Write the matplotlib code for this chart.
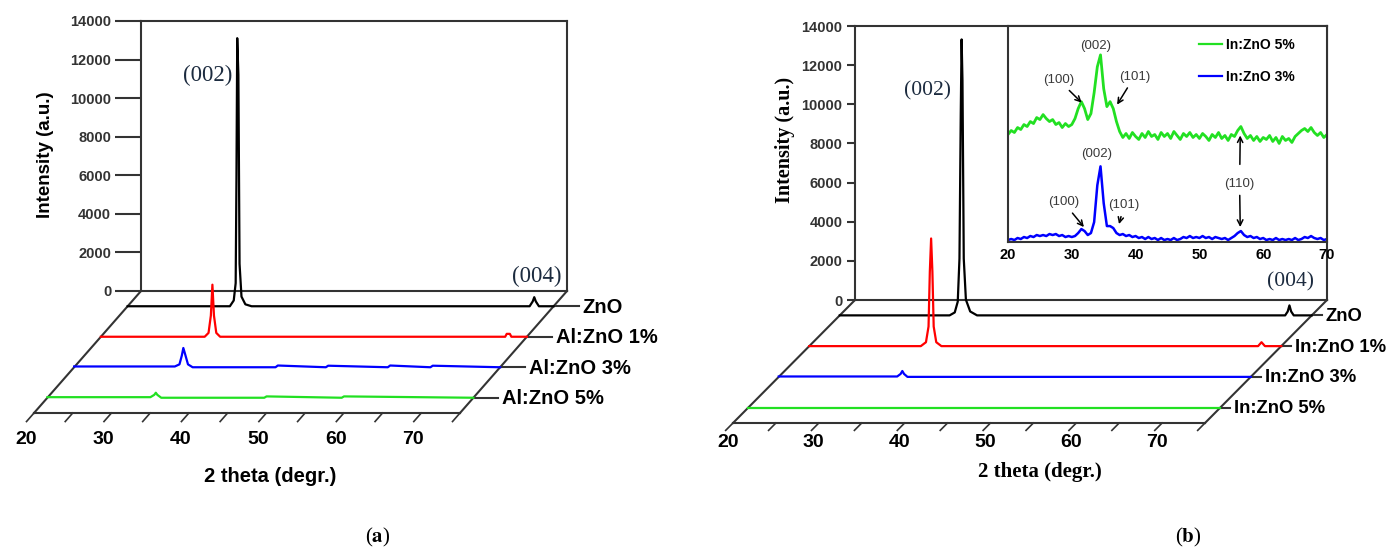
import numpy as np
import matplotlib.pyplot as plt
from matplotlib.lines import Line2D

W, H = 1390, 552
plt.rcParams['mathtext.fontset'] = 'stix'

NARROW = ['Liberation Sans Narrow', 'Liberation Sans', 'DejaVu Sans']
SANS = ['Liberation Sans', 'DejaVu Sans']
SERIF = ['Liberation Serif', 'DejaVu Serif']
FRAME = '#333333'
GREEN = '#22e022'

# ---------------- data: panel (a), Al doped ----------------
names_a = ['ZnO', 'Al:ZnO 1%', 'Al:ZnO 3%', 'Al:ZnO 5%']
zno_a_x = [20, 33.2, 33.7, 33.95, 34.05, 34.15, 34.3, 34.45, 34.7, 35.2, 36.0, 71.9, 72.3, 72.5, 72.7, 73.1, 75]
zno_a_y = [0, 0, 300, 1200, 6600, 13900, 12000, 2200, 500, 100, 0, 0, 250, 470, 250, 0, 0]
al1_x = [20, 33.4, 33.9, 34.2, 34.4, 34.6, 34.9, 35.4, 72.2, 72.4, 72.8, 73.0, 75]
al1_y = [0, 0, 200, 1100, 2700, 1100, 200, 0, 0, 150, 150, 0, 0]
al3_x = [20, 33.0, 33.6, 33.9, 34.1, 34.35, 34.7, 35.3, 46.0, 46.3, 52.5, 52.8, 60.5, 60.8, 66.0, 66.3, 75]
al3_y = [40, 40, 150, 600, 1000, 650, 150, 0, 0, 90, 0, 80, 0, 90, 0, 80, 0]
al5_x = [20, 33.3, 33.8, 34.0, 34.2, 34.7, 48.0, 48.3, 58.0, 58.3, 75]
al5_y = [30, 30, 150, 260, 150, 0, 0, 70, 0, 70, 0]

# ---------------- data: panel (b), In doped ----------------
names_b = ['ZnO', 'In:ZnO 1%', 'In:ZnO 3%', 'In:ZnO 5%']
zno_b_x = [20, 32.8, 33.4, 33.75, 33.95, 34.1, 34.2, 34.3, 34.45, 34.7, 35.2, 36.0, 71.9, 72.2, 72.4, 72.6, 72.9, 75]
zno_b_y = [0, 0, 150, 700, 2900, 10300, 14100, 12000, 2900, 800, 200, 0, 0, 200, 510, 200, 0, 0]
in1_x = [20, 33.0, 33.6, 33.9, 34.05, 34.2, 34.35, 34.5, 34.8, 35.4, 72.3, 72.7, 73.1, 75]
in1_y = [0, 0, 200, 1000, 3800, 5500, 3800, 1000, 200, 0, 0, 200, 0, 0]
in3_x = [20, 33.8, 34.2, 34.4, 34.6, 35.0, 75]
in3_y = [20, 20, 150, 300, 150, 0, 0]
in5_x = [20, 75]
in5_y = [0, 0]

# ---------------- data: inset (b), counts sampled every 0.5 deg ----------------
in5_inset = [1080, 1120, 1100, 1150, 1130, 1180, 1160, 1210, 1190, 1250,
             1230, 1280, 1240, 1210, 1230, 1180, 1200, 1150, 1190, 1160,
             1180, 1240, 1340, 1410, 1340, 1230, 1290, 1500, 1760, 1880,
             1540, 1360, 1410, 1340, 1210, 1110, 1050, 1090, 1040, 1100,
             1060, 1030, 1090, 1050, 1110, 1060, 1080, 1030, 1100, 1060,
             1090, 1040, 1110, 1070, 1030, 1090, 1060, 1100, 1050, 1080,
             1040, 1090, 1060, 1020, 1080, 1050, 1100, 1040, 1070, 1020,
             1080, 1060, 1120, 1160, 1090, 1040, 1070, 1020, 1060, 1010,
             1050, 1030, 1070, 1010, 1050, 990, 1060, 1020, 1040, 1000,
             1060, 1090, 1120, 1140, 1110, 1150, 1100, 1070, 1100, 1050, 1080]
in3_inset = [20, 30, 20, 40, 30, 50, 40, 60, 50, 70,
             60, 70, 60, 80, 70, 80, 60, 70, 50, 60,
             50, 60, 90, 130, 110, 70, 90, 200, 570, 760,
             390, 160, 160, 140, 90, 70, 80, 60, 70, 50,
             60, 40, 50, 30, 50, 30, 40, 20, 40, 20,
             30, 20, 40, 20, 30, 50, 40, 60, 40, 50,
             40, 60, 40, 50, 30, 50, 40, 30, 40, 20,
             40, 60, 90, 110, 70, 50, 60, 40, 50, 30,
             40, 20, 30, 20, 40, 20, 30, 20, 30, 20,
             40, 20, 30, 50, 40, 60, 40, 30, 40, 20, 30]

depths = [0.125, 0.375, 0.625, 0.875]
series_colors = ['black', 'red', 'blue', GREEN]

fig = plt.figure(figsize=(W / 100, H / 100), dpi=100)


def px_axes(l, t, r, b):
    return fig.add_axes([l / W, 1 - b / H, (r - l) / W, (b - t) / H])


def waterfall(ax, series, names, depth_px, tick_len, ytick_len, lab_tick, lab_off, lab_size):
    ax.set_xlim(20, 75)
    ax.set_ylim(0, 14000)
    ax.set_xticks([])
    ax.set_yticks(range(0, 14001, 2000))
    ax.set_facecolor('none')
    for s in ax.spines.values():
        s.set_color(FRAME)
        s.set_linewidth(1.5)
    ax.tick_params(axis='y', length=ytick_len, width=1.5, color=FRAME, pad=3)
    for lb in ax.get_yticklabels():
        lb.set_fontfamily(SANS)
        lb.set_fontweight('bold')
        lb.set_fontsize(10.5)
        lb.set_color(FRAME)

    # depth offset of the floor, turned from pixels into data units
    pos = ax.get_position()
    ppd = pos.width * W / 55.0
    ppu = pos.height * H / 14000.0
    DX = -depth_px[0] / ppd
    DY = -depth_px[1] / ppu

    def P(x, y, z):
        return np.asarray(x, float) + np.asarray(z, float) * DX, np.asarray(y, float) + np.asarray(z, float) * DY

    kw = dict(color=FRAME, lw=1.5, clip_on=False)
    ax.plot(*P([20, 20], [0, 0], [0, 1]), **kw)
    ax.plot(*P([75, 75], [0, 0], [0, 1]), **kw)
    ax.plot(*P([20, 75], [0, 0], [1, 1]), **kw)
    for t in range(20, 76, 5):
        ax.plot(*P([t, t], [0, 0], [1, 1 + tick_len]), color=FRAME, lw=1.2, clip_on=False)
        if t % 10 == 0:
            ax.annotate(str(t), P(t, 0, 1), xytext=lab_off, textcoords='offset pixels',
                        ha='center', va='center', fontsize=14, fontweight='bold',
                        family=NARROW, annotation_clip=False)

    for (xs, ys), z, c in zip(series, depths, series_colors):
        ax.plot(*P(xs, ys, z), color=c, lw=1.6, clip_on=False, zorder=3)

    for name, z in zip(names, depths):
        x_end = 75 + lab_tick / ppd
        ax.plot(*P([75, x_end], [0, 0], [z, z]), **kw)
        ax.annotate(name, P(x_end, 0, z), xytext=(4, -1), textcoords='offset pixels',
                    ha='left', va='center', fontsize=lab_size, fontweight='bold',
                    family=NARROW, annotation_clip=False)


# ---------------- panel (a) ----------------
ax_a = px_axes(141, 21, 567, 291)
waterfall(ax_a, [(zno_a_x, zno_a_y), (al1_x, al1_y), (al3_x, al3_y), (al5_x, al5_y)],
          names_a, (107, 122), 0.07, 18.5, 25, (-8, -26), 14.5)
ax_a.text(28.65, 11200, '(002)', family=SERIF, fontsize=16.5, color='#1c2b3f', ha='center', va='center')
ax_a.text(71.1, 730, '(004)', family=SERIF, fontsize=16.5, color='#1c2b3f', ha='center', va='center')
fig.text(45 / W, 1 - 155 / H, 'Intensity (a.u.)', rotation=90, ha='center', va='center',
         fontsize=13.5, fontweight='bold', family=SANS)
fig.text(270 / W, 1 - 477 / H, '2 theta (degr.)', ha='center', va='center',
         fontsize=14.5, fontweight='bold', family=NARROW)
fig.text(378 / W, 1 - 537 / H, r'($\mathbf{a}$)', ha='center', va='center', fontsize=15, family=SERIF)

# ---------------- panel (b) ----------------
ax_b = px_axes(855, 26, 1327, 300)
waterfall(ax_b, [(zno_b_x, zno_b_y), (in1_x, in1_y), (in3_x, in3_y), (in5_x, in5_y)],
          names_b, (122, 123), 0.06, 6, 10, (-5, -20), 13.3)
ax_b.text(28.45, 10667, '(002)', family=SERIF, fontsize=15.5, color='#1c2b3f', ha='center', va='center')
ax_b.text(70.8, 920, '(004)', family=SERIF, fontsize=15.5, color='#1c2b3f', ha='center', va='center')
fig.text(785 / W, 1 - 140 / H, 'Intensity (a.u.)', rotation=90, ha='center', va='center',
         fontsize=14.5, fontweight='bold', family=SERIF)
fig.text(1040 / W, 1 - 472 / H, '2 theta (degr.)', ha='center', va='center',
         fontsize=15, fontweight='bold', family=SERIF)
fig.text(1188 / W, 1 - 537 / H, r'($\mathbf{b}$)', ha='center', va='center', fontsize=15, family=SERIF)

# ---------------- inset (b) ----------------
ax_in = px_axes(1008, 26, 1327, 242)
tt = np.linspace(20, 70, len(in5_inset))
ax_in.plot(tt, in5_inset, color=GREEN, lw=2.0)
ax_in.plot(tt, in3_inset, color='blue', lw=1.8)
ax_in.set_xlim(20, 70)
ax_in.set_ylim(0, 2170)
ax_in.set_yticks([])
ax_in.set_xticks(range(20, 71, 10))
ax_in.tick_params(axis='x', length=0, pad=4)
for lb in ax_in.get_xticklabels():
    lb.set_fontfamily(SANS)
    lb.set_fontweight('bold')
    lb.set_fontsize(10.5)
for s in ax_in.spines.values():
    s.set_color(FRAME)
    s.set_linewidth(1.5)

ann = dict(fontsize=9.5, family=SANS, color='#3a3a3a', ha='center', va='center')
arr = dict(arrowstyle='->', color='black', lw=1.1, shrinkA=2, shrinkB=0)
ax_in.text(33.8, 1970, '(002)', **ann)
ax_in.annotate('(100)', xy=(31.55, 1400), xytext=(27.9, 1630), arrowprops=arr, **ann)
ax_in.annotate('(101)', xy=(37.1, 1380), xytext=(39.8, 1660), arrowprops=arr, **ann)
ax_in.text(33.9, 880, '(002)', **ann)
ax_in.annotate('(100)', xy=(31.9, 150), xytext=(28.7, 400), arrowprops=arr, **ann)
ax_in.annotate('(101)', xy=(37.4, 180), xytext=(38.2, 370), arrowprops=arr, **ann)
ax_in.annotate('(110)', xy=(56.4, 1070), xytext=(56.3, 580), arrowprops=dict(arr, shrinkA=8), **ann)
ax_in.annotate('', xy=(56.4, 150), xytext=(56.3, 580), arrowprops=dict(arr, shrinkA=8))

handles = [Line2D([], [], color=GREEN, lw=1.6), Line2D([], [], color='blue', lw=1.6)]
ax_in.legend(handles, ['In:ZnO 5%', 'In:ZnO 3%'], loc='upper left', bbox_to_anchor=(0.58, 0.97),
             frameon=False, handlelength=1.7, handletextpad=0.3, labelspacing=1.3,
             borderaxespad=0, prop={'family': SANS, 'weight': 'bold', 'size': 10})

fig.savefig('out.png', dpi=100)
